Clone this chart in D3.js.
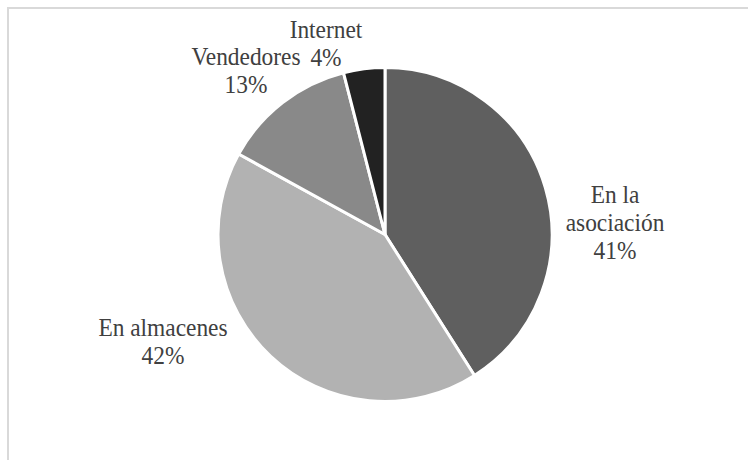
<!DOCTYPE html>
<html>
<head>
<meta charset="utf-8">
<script src="https://cdn.jsdelivr.net/npm/d3@7"></script>
<style>
  html, body { margin: 0; padding: 0; background: #fff; }
  svg { display: block; }
</style>
</head>
<body>
<svg id="chart" width="748" height="460"></svg>
<script>
// Canales de venta: categoría, porcentaje, tono de gris
const categories = ["En la asociación", "En almacenes", "Vendedores", "Internet"];
const values = [41, 42, 13, 4];
const colors = ["#5f5f5f", "#b2b2b2", "#898989", "#222222"];
// Etiquetas en varias líneas (nombre + valor)
const labelLines = [["En la", "asociación", "41%"], ["En almacenes", "42%"], ["Vendedores", "13%"], ["Internet", "4%"]];
// Posición de cada etiqueta (centro x, línea base de la primera línea)
const labelPos = [[615, 203], [163, 336], [246, 65], [326, 38]];

const svg = d3.select("#chart");
const W = 748, H = 460;

// Marco del área del gráfico
svg.append("rect")
  .attr("x", 8).attr("y", 8)
  .attr("width", W).attr("height", H)
  .attr("fill", "none")
  .attr("stroke", "#d9d9d9")
  .attr("stroke-width", 2);

const cx = 385, cy = 234.5, r = 167;

const data = categories.map((c, i) => ({ name: c, value: values[i], color: colors[i] }));

const pie = d3.pie().value(d => d.value).sort(null);
const arc = d3.arc().innerRadius(0).outerRadius(r);

const g = svg.append("g").attr("transform", `translate(${cx},${cy})`);
g.selectAll("path")
  .data(pie(data))
  .join("path")
  .attr("d", arc)
  .attr("fill", d => d.data.color)
  .attr("stroke", "#fff")
  .attr("stroke-width", 3)
  .attr("stroke-linejoin", "round");

const lineH = 28;
const squeeze = 0.9; // tipografía algo estrecha

// Una línea de texto por elemento
labelLines.forEach((lines, i) => {
  lines.forEach((s, j) => {
    svg.append("text")
      .attr("transform", `translate(${labelPos[i][0]},${labelPos[i][1] + j * lineH}) scale(${squeeze},1)`)
      .attr("text-anchor", "middle")
      .style("font-family", "Liberation Serif")
      .style("font-size", "26px")
      .style("fill", "#404040")
      .text(s);
  });
});
</script>
</body>
</html>
